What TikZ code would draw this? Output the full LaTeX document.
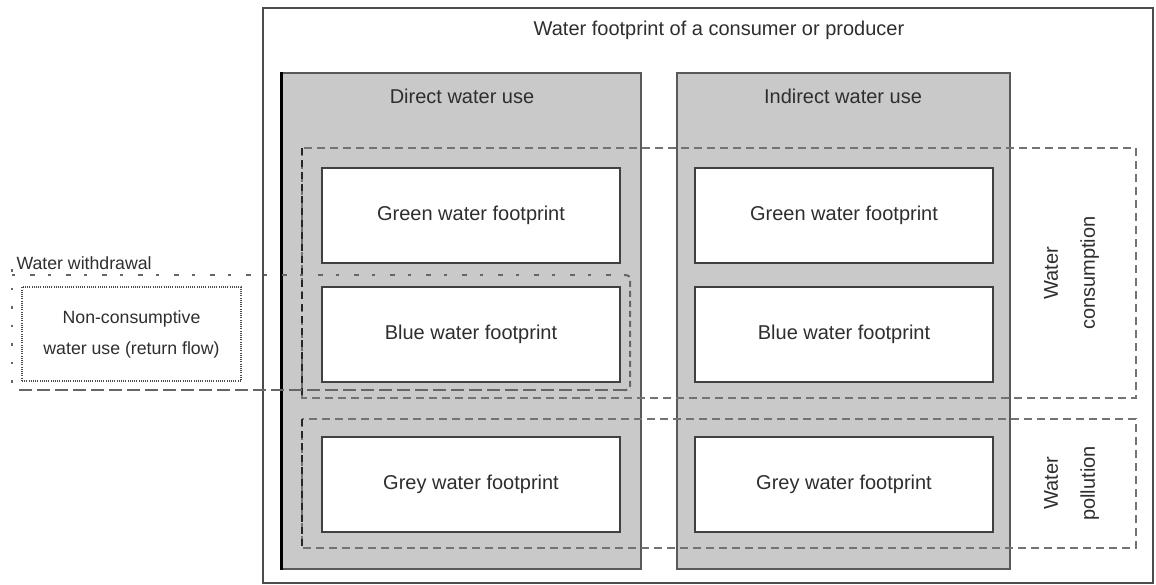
\documentclass[tikz,border=0pt]{standalone}
\usepackage{fontspec}
\setmainfont{Liberation Sans}
\begin{document}
\begin{tikzpicture}[x=1pt,y=-1pt,
  txt/.style={text=black!82, font=\fontsize{20}{24}\selectfont},
  smalltxt/.style={text=black!82, font=\fontsize{17.7}{31}\selectfont},
  usebox/.style={draw=black!65, line width=1.5pt, fill=black!21, inner sep=0pt},
  fpbox/.style={draw=black!75, line width=2pt, fill=white, inner sep=0pt,
                minimum width=298pt, minimum height=95pt, txt},
  groupline/.style={draw=black!55, line width=2pt, dash pattern=on 8pt off 5pt},
  groupedge/.style={draw=black!85, line width=2.6pt, dash pattern=on 7pt off 5pt},
  wtop/.style={draw=black!60, line width=2pt, dash pattern=on 3pt off 15pt on 5pt off 13pt},
  wside/.style={draw=black!60, line width=2pt, dash pattern=on 2.5pt off 16pt},
  wright/.style={draw=black!60, line width=2pt, dash pattern=on 6pt off 4pt},
  wbottom/.style={draw=black!60, line width=2pt, dash pattern=on 13pt off 5pt},
  returnbox/.style={draw=black!70, line width=1.2pt, dash pattern=on 1pt off 1.2pt,
                    fill=white, inner sep=0pt, minimum width=219pt, minimum height=94pt}
]
\useasboundingbox (0,0) rectangle (1156,584);

% outer frame and its title
\node[draw=black!70, line width=1.3pt, inner sep=0pt, minimum width=890pt,
      minimum height=575pt] (outer) at (708,295.5) {};
\node[txt] (title) at (719,30) {Water footprint of a consumer or producer};

% the two columns of water use
\node[usebox, minimum width=359pt, minimum height=496pt] (direct) at (461.5,321) {};
\draw[black, line width=3pt] (direct.north west) -- (direct.south west);
\node[txt] (directlbl) at (462,96) {Direct water use};
\node[usebox, minimum width=333pt, minimum height=496pt] (indirect) at (843.5,321) {};
\node[txt] (indirectlbl) at (843,96) {Indirect water use};

% footprint components in each column
\node[fpbox] (dgreen) at (471,215) {Green water footprint};
\node[fpbox] (dblue)  at (471,334) {Blue water footprint};
\node[fpbox] (dgrey)  at (471,484.5) {Grey water footprint};
\node[fpbox] (igreen) at (844,215) {Green water footprint};
\node[fpbox] (iblue)  at (844,334) {Blue water footprint};
\node[fpbox] (igrey)  at (844,484.5) {Grey water footprint};

% consumption and pollution groupings
\coordinate (cNW) at (302,148);
\coordinate (cSE) at (1136,398);
\coordinate (pNW) at (302,419);
\coordinate (pSE) at (1136,548);
\draw[groupline] (cNW) rectangle (cSE);
\draw[groupline] (pNW) rectangle (pSE);
\draw[groupedge] (cNW) -- (cNW |- cSE);
\draw[groupedge] (pNW) -- (pNW |- pSE);
\node[txt, rotate=90, align=center, font=\fontsize{20}{37}\selectfont]
  (consumption) at (1071.5,273) {Water\\consumption};
\node[txt, rotate=90, align=center, font=\fontsize{20}{37}\selectfont]
  (pollution) at (1071.5,483.5) {Water\\pollution};

% water withdrawal: return flow plus blue water footprint
\node[returnbox, smalltxt, align=center] (returnflow) at (131.5,334)
  {Non-consumptive\\water use (return flow)};
\coordinate (wNW) at (12,275);
\coordinate (wNE) at (630,275);
\coordinate (wSE) at (630,390);
\coordinate (wSW) at (12,390);
\draw[wtop] (wNW) -- ([xshift=-4pt]wNE);
\draw[wside] ([yshift=6pt]wNW) -- ([yshift=-4pt]wSW);
\draw[wright, rounded corners=4pt] ([xshift=-6pt]wNE) -- (wNE) -- (wSE) -- ([xshift=-6pt]wSE);
\draw[wbottom] ([xshift=-4pt]wSE) -- ([xshift=3pt]wSW);
\node[smalltxt, anchor=west] (withdrawal) at (13,263) {Water withdrawal};
\end{tikzpicture}
\end{document}
